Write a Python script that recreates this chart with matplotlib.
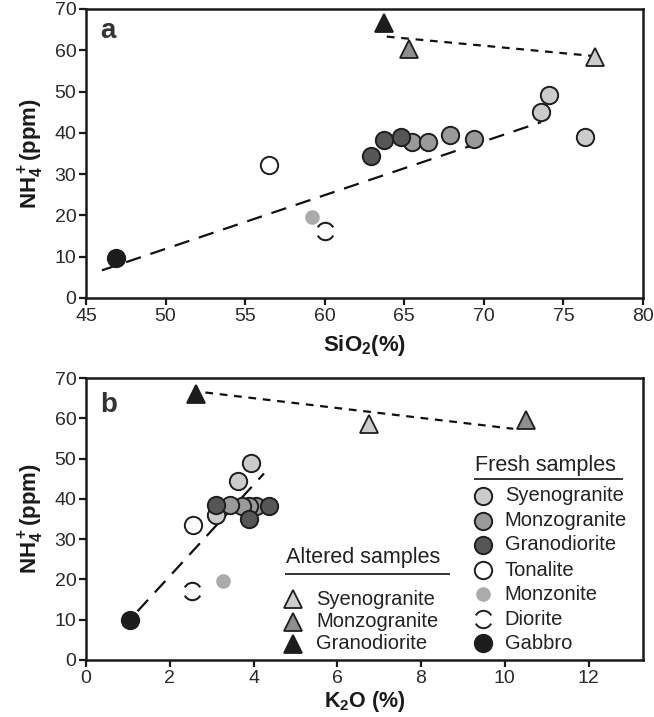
import matplotlib
matplotlib.use("Agg")
import matplotlib.pyplot as plt
from matplotlib.path import Path
from matplotlib.lines import Line2D

plt.rcParams['font.family'] = ['Liberation Sans', 'DejaVu Sans']
plt.rcParams['mathtext.fontset'] = 'custom'
plt.rcParams['mathtext.rm'] = 'Liberation Sans'
plt.rcParams['mathtext.bf'] = 'Liberation Sans:bold'

# ---- panel a: SiO2 vs NH4+ ----
a_syeno_x = [73.6, 74.1, 76.35]
a_syeno_y = [45.0, 49.2, 39.0]
a_monzo_x = [65.5, 66.5, 67.9, 69.35]
a_monzo_y = [37.8, 37.9, 39.4, 38.6]
a_grano_x = [62.9, 63.7, 64.8]
a_grano_y = [34.4, 38.3, 39.1]
a_tonal_x, a_tonal_y = [56.5], [32.3]
a_monzonite_x, a_monzonite_y = [59.2], [19.5]
a_diorite_x, a_diorite_y = [60.0], [16.3]
a_gabbro_x, a_gabbro_y = [46.9], [9.8]
a_alt_x = [77.0, 65.3, 63.7]          # syeno, monzo, grano (altered)
a_alt_y = [58.4, 60.4, 66.6]
a_fit_x, a_fit_y = [46.0, 73.6], [6.7, 42.6]
a_altfit_x, a_altfit_y = [63.9, 76.9], [63.3, 58.6]

# ---- panel b: K2O vs NH4+ ----
b_syeno_x = [3.93, 3.64, 3.11]
b_syeno_y = [48.8, 44.4, 36.0]
b_monzo_x = [4.05, 3.90, 3.72, 3.45]
b_monzo_y = [38.2, 38.2, 38.3, 38.5]
b_grano_x = [3.11, 4.38, 3.90]
b_grano_y = [38.5, 38.2, 35.0]
b_tonal_x, b_tonal_y = [2.55], [33.4]
b_monzonite_x, b_monzonite_y = [3.26], [19.7]
b_diorite_x, b_diorite_y = [2.54], [17.2]
b_gabbro_x, b_gabbro_y = [1.05], [10.0]
b_alt_x = [6.75, 10.5, 2.63]
b_alt_y = [58.5, 59.5, 66.1]
b_fit_x, b_fit_y = [1.23, 4.25], [12.1, 46.3]
b_altfit_x, b_altfit_y = [2.85, 10.2], [66.4, 57.4]

fresh_names = ['Syenogranite', 'Monzogranite', 'Granodiorite', 'Tonalite',
               'Monzonite', 'Diorite', 'Gabbro']
altered_names = ['Syenogranite', 'Monzogranite', 'Granodiorite']

c_syeno = '#cbcbcb'
c_monzo = '#9a9a9a'
c_grano = '#565656'
c_gabbro = '#1c1c1c'
c_monzonite = '#ababab'
edge = '#1e1e1e'
tri_cols = ['#cdcdcd', '#8e8e8e', '#1c1c1c']

# broken circle for diorite
diorite_marker = Path.make_compound_path(Path.arc(28, 152), Path.arc(208, 332))

MS = 12.5


def draw(ax, syx, syy, mzx, mzy, grx, gry, tx, ty, mnx, mny, dx, dy, gx, gy,
         altx, alty, fx, fy, afx, afy):
    ax.plot(fx, fy, color='#111111', lw=1.6, dashes=(7, 4.5), zorder=1)
    ax.plot(afx, afy, color='#111111', lw=1.6, dashes=(3.5, 3), zorder=1)
    kw = dict(ls='none', marker='o', ms=MS, mec=edge, mew=1.4, zorder=3)
    ax.plot(syx, syy, mfc=c_syeno, **kw)
    ax.plot(mzx, mzy, mfc=c_monzo, **kw)
    ax.plot(grx, gry, mfc=c_grano, **kw)
    ax.plot(tx, ty, mfc='white', **kw)
    ax.plot(gx, gy, mfc=c_gabbro, **kw)
    ax.plot(mnx, mny, ls='none', marker='o', ms=10.5, mfc=c_monzonite,
            mec='none', zorder=3)
    ax.plot(dx, dy, ls='none', marker=diorite_marker, ms=MS, mfc='none',
            mec=edge, mew=1.5, zorder=3)
    for x, y, c in zip(altx, alty, tri_cols):
        ax.plot([x], [y], ls='none', marker='^', ms=12.5, mfc=c, mec=edge,
                mew=1.3, zorder=3)


def style(ax):
    for s in ax.spines.values():
        s.set_linewidth(1.8)
        s.set_color('#1a1a1a')
    ax.tick_params(direction='out', length=5, width=1.6, labelsize=14,
                   colors='#1a1a1a', labelcolor='#2a2a2a', pad=2)
    ax.set_ylim(0, 70)
    ax.set_yticks(range(0, 71, 10))
    ax.set_ylabel(r'$\mathbf{NH_4^+}$(ppm)', fontsize=16, fontweight='bold',
                  labelpad=6, color='#1a1a1a')


fig = plt.figure(figsize=(6.54, 7.17), dpi=100)
ax1 = fig.add_axes([0.1315, 0.5844, 0.8517, 0.4031])
ax2 = fig.add_axes([0.1315, 0.0795, 0.8517, 0.3933])

draw(ax1, a_syeno_x, a_syeno_y, a_monzo_x, a_monzo_y, a_grano_x, a_grano_y,
     a_tonal_x, a_tonal_y, a_monzonite_x, a_monzonite_y, a_diorite_x,
     a_diorite_y, a_gabbro_x, a_gabbro_y, a_alt_x, a_alt_y,
     a_fit_x, a_fit_y, a_altfit_x, a_altfit_y)
style(ax1)
ax1.set_xlim(45, 80)
ax1.set_xticks(range(45, 81, 5))
ax1.set_xlabel(r'SiO$_\mathbf{2}$(%)', fontsize=16, fontweight='bold',
               labelpad=6, color='#1a1a1a')
ax1.text(0.025, 0.97, 'a', transform=ax1.transAxes, fontsize=20,
         fontweight='bold', color='#333333', va='top', ha='left')

draw(ax2, b_syeno_x, b_syeno_y, b_monzo_x, b_monzo_y, b_grano_x, b_grano_y,
     b_tonal_x, b_tonal_y, b_monzonite_x, b_monzonite_y, b_diorite_x,
     b_diorite_y, b_gabbro_x, b_gabbro_y, b_alt_x, b_alt_y,
     b_fit_x, b_fit_y, b_altfit_x, b_altfit_y)
style(ax2)
ax2.set_xlim(0, 13.3)
ax2.set_xticks(range(0, 13, 2))
ax2.set_xlabel(r'K$_\mathbf{2}$O (%)', fontsize=15.5, fontweight='bold',
               labelpad=2, color='#1a1a1a')
ax2.text(0.025, 0.95, 'b', transform=ax2.transAxes, fontsize=20,
         fontweight='bold', color='#333333', va='top', ha='left')

# legends drawn by hand (titles are underlined)
T = ax2.transAxes
ax2.text(0.698, 0.691, 'Fresh samples', transform=T, fontsize=15.5,
         va='center', ha='left', color='#222222')
ax2.add_line(Line2D([0.698, 0.962], [0.642, 0.642], transform=T,
                    color='#333333', lw=1.4))
fresh_styles = [
    dict(marker='o', mfc=c_syeno, mec=edge),
    dict(marker='o', mfc=c_monzo, mec=edge),
    dict(marker='o', mfc=c_grano, mec=edge),
    dict(marker='o', mfc='white', mec=edge),
    dict(marker='o', mfc=c_monzonite, mec='none', ms=10.5),
    dict(marker=diorite_marker, mfc='none', mec=edge),
    dict(marker='o', mfc=c_gabbro, mec=edge),
]
fresh_y = [0.583, 0.493, 0.408, 0.319, 0.234, 0.145, 0.060]
for name, st, y in zip(fresh_names, fresh_styles, fresh_y):
    kw = dict(ms=MS, mew=1.4)
    kw.update(st)
    ax2.add_line(Line2D([0.713], [y], transform=T, ls='none', **kw))
    ax2.text(0.752, y, name, transform=T, fontsize=14.5, va='center',
             ha='left', color='#222222')

ax2.text(0.359, 0.362, 'Altered samples', transform=T, fontsize=15.5,
         va='center', ha='left', color='#222222')
ax2.add_line(Line2D([0.359, 0.652], [0.305, 0.305], transform=T,
                    color='#333333', lw=1.4))
alt_y = [0.216, 0.135, 0.057]
for name, c, y in zip(altered_names, tri_cols, alt_y):
    ax2.add_line(Line2D([0.372], [y], transform=T, ls='none', marker='^',
                        ms=12.5, mfc=c, mec=edge, mew=1.3))
    ax2.text(0.413, y, name, transform=T, fontsize=14.5, va='center',
             ha='left', color='#222222')

fig.savefig('out.png', dpi=100)
